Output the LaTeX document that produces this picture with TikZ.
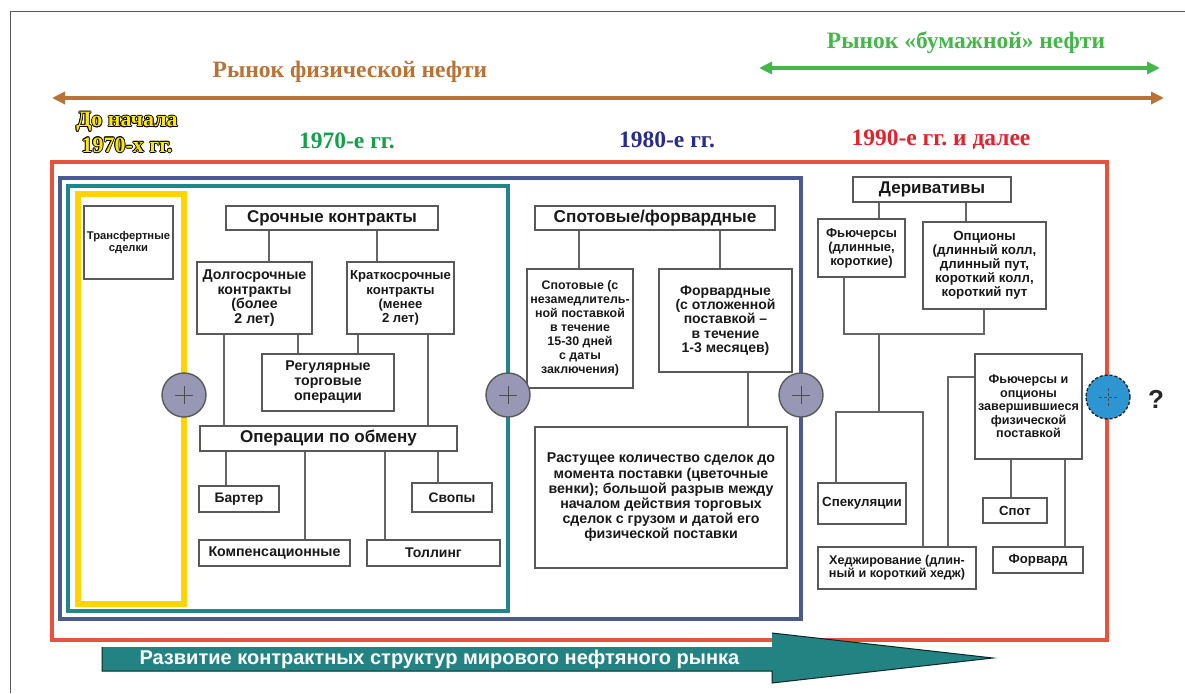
\documentclass[tikz,border=0pt]{standalone}
\usepackage{fontspec}
\setmainfont{Liberation Serif}
\setsansfont{Liberation Sans}
\usetikzlibrary{arrows.meta}
\frenchspacing
\definecolor{cbrown}{RGB}{185,115,55}
\definecolor{cgreentop}{RGB}{70,182,75}
\definecolor{cgreen}{RGB}{20,160,75}
\definecolor{cnavy}{RGB}{40,45,140}
\definecolor{cred}{RGB}{225,35,45}
\definecolor{fred}{RGB}{230,82,60}
\definecolor{fblue}{RGB}{75,90,145}
\definecolor{fteal}{RGB}{30,135,135}
\definecolor{fyel}{RGB}{255,212,0}
\definecolor{tyel}{RGB}{255,232,0}
\definecolor{plusfill}{RGB}{152,152,182}
\definecolor{bluefill}{RGB}{45,150,210}
\definecolor{arrteal}{RGB}{35,130,130}
\newcommand\mybox[8]{%
 \pgfmathsetmacro\cx{(#2+#4)/2}\pgfmathsetmacro\cy{(#3+#5)/2}%
 \pgfmathsetmacro\ww{#4-#2}\pgfmathsetmacro\hh{#5-#3}%
 \node[bx, minimum width=\ww pt, minimum height=\hh pt, font=\sffamily\bfseries\fontsize{#6}{#7}\selectfont] (#1) at (\cx,\cy) {#8};}
\begin{document}
\begin{tikzpicture}[x=1pt,y=-1pt,
  bx/.style={draw=black!65, line width=1.3pt, fill=white, inner sep=0pt, align=center, text=black!90},
  ln/.style={draw=black!60, line width=1.3pt},
  frame/.style={line width=4.5pt},
  head/.style={font=\rmfamily\bfseries\fontsize{23.5}{24}\selectfont},
  oldhead/.style={font=\rmfamily\bfseries\fontsize{22}{22}\selectfont},
  plusc/.style={circle, draw=black!65, line width=1.4pt, fill=plusfill, minimum size=44pt, inner sep=0pt,
    path picture={\draw[black!70, line width=1pt] ([xshift=-9pt]path picture bounding box.center) -- ([xshift=9pt]path picture bounding box.center) ([yshift=-9pt]path picture bounding box.center) -- ([yshift=9pt]path picture bounding box.center);}},
  ]
\useasboundingbox (0,0) rectangle (1185,693);
\fill[white] (0,0) rectangle (1185,693);
% outer thin border
\draw[black!65, line width=1pt] (10,693) -- (10,12) -- (1185,12);

% headings
\node[head, text=cbrown] (hphys) at (350,72) {Рынок физической нефти};
\node[head, text=cgreentop] (hpaper) at (966,43) {Рынок «бумажной» нефти};
\coordinate (bl) at (52,98); \coordinate (br) at (1164,98);
\draw[cbrown, line width=4pt, {Triangle[length=13pt,width=12pt]}-{Triangle[length=13pt,width=12pt]}] (bl) -- (br);
\coordinate (gl) at (759,68); \coordinate (gr) at (1160,68);
\draw[cgreentop, line width=4pt, {Triangle[length=13pt,width=12pt]}-{Triangle[length=13pt,width=12pt]}] (gl) -- (gr);

\foreach \dx/\dy [count=\i] in {-0.9/0,0.9/0,0/-0.9,0/0.9,-0.65/-0.65,0.65/0.65,-0.65/0.65,0.65/-0.65} {
  \node[oldhead, text=black] (sha\i) at (127+\dx,122+\dy) {До начала};
  \node[oldhead, text=black] (shb\i) at (127+\dx,145+\dy) {1970-х гг.};
}
\node[oldhead, text=tyel] (h60a) at (127,122) {До начала};
\node[oldhead, text=tyel] (h60b) at (127,145) {1970-х гг.};
\node[head, text=cgreen] (h70) at (347,141) {1970-е гг.};
\node[head, text=cnavy] (h80) at (667,140) {1980-е гг.};
\node[head, text=cred] (h90) at (941,140) {1990-е гг. и далее};

% frames
\draw[frame, fred] (52,162) rectangle (1107,640);
\draw[frame, fblue] (60,178) rectangle (801,619);
\draw[frame, fteal] (68,186) rectangle (508,611);
\draw[frame, fyel, line width=5.5pt] (78,194) rectangle (184,604);

% boxes
\mybox{trans}{84}{206}{173}{279}{11.2}{12}{Трансфертные\\сделки}
\mybox{srochnye}{226}{206}{438}{230}{17}{18}{Срочные контракты}
\mybox{dolgo}{197}{262}{312}{334}{14.2}{14.8}{Долгосрочные\\контракты\\(более\\2 лет)}
\mybox{kratko}{347}{262}{454}{334}{13.1}{14.3}{Краткосрочные\\контракты\\(менее\\2 лет)}
\mybox{regul}{262}{354}{394}{411}{14.2}{15}{Регулярные\\торговые\\операции}
\mybox{obmen}{200}{426}{457}{451}{17}{18}{Операции по обмену}
\mybox{barter}{199}{486}{279}{512}{13.8}{15}{Бартер}
\mybox{svopy}{412}{483}{492}{512}{13.8}{15}{Свопы}
\mybox{kompens}{199}{540}{350}{566}{14.2}{15}{Компенсационные}
\mybox{tolling}{367}{540}{500}{566}{14}{15}{Толлинг}
\mybox{spotfor}{535}{206}{775}{230}{17.2}{18}{Спотовые/форвардные}
\mybox{spot}{527}{269}{633}{388}{12.4}{14}{Спотовые (с\\незамедлитель-\\ной поставкой\\в течение\\15-30 дней\\с даты\\заключения)}
\mybox{forw}{659}{269}{792}{372}{14}{14.3}{Форвардные\\(с отложенной\\поставкой –\\в течение\\1-3 месяцев)}
\mybox{rastush}{535}{427}{787}{568}{14.2}{15.2}{Растущее количество сделок до\\момента поставки (цветочные\\венки); большой разрыв между\\началом действия торговых\\сделок с грузом и датой его\\физической поставки}
\mybox{deriv}{853}{177}{1011}{202}{17}{18}{Деривативы}
\mybox{fut}{818}{219}{905}{277}{13}{14}{Фьючерсы\\(длинные,\\короткие)}
\mybox{opt}{923}{222}{1046}{309}{13.3}{14}{Опционы\\(длинный колл,\\длинный пут,\\короткий колл,\\короткий пут}
\mybox{fo}{975}{354}{1082}{459}{12.6}{13.5}{Фьючерсы и\\опционы\\завершившиеся\\физической\\поставкой}
\mybox{spek}{818}{483}{906}{524}{13.3}{14}{Спекуляции}
\mybox{hedge}{818}{547}{976}{589}{12.6}{13}{Хеджирование (длин-\\ный и короткий хедж)}
\mybox{spotR}{983}{498}{1047}{523}{13.2}{14}{Спот}
\mybox{forward}{993}{547}{1083}{573}{13.2}{14}{Форвард}

% connectors
\draw[ln] (269,0 |- srochnye.south) -- (269,0 |- dolgo.north);
\draw[ln] (377,0 |- srochnye.south) -- (377,0 |- kratko.north);
\draw[ln] (298,0 |- dolgo.south) -- (298,0 |- regul.north);
\draw[ln] (358,0 |- kratko.south) -- (358,0 |- regul.north);
\draw[ln] (224,0 |- dolgo.south) -- (224,0 |- obmen.north);
\draw[ln] (428,0 |- kratko.south) -- (428,0 |- obmen.north);
\draw[ln] (226,0 |- obmen.south) -- (226,0 |- barter.north);
\draw[ln] (305,0 |- obmen.south) -- (305,0 |- kompens.north);
\draw[ln] (385,0 |- obmen.south) -- (385,0 |- tolling.north);
\draw[ln] (438,0 |- obmen.south) -- (438,0 |- svopy.north);
\draw[ln] (579,0 |- spotfor.south) -- (579,0 |- spot.north);
\draw[ln] (720,0 |- spotfor.south) -- (720,0 |- forw.north);
\draw[ln] (748,0 |- forw.south) -- (748,0 |- rastush.north);
\draw[ln] (879,0 |- deriv.south) -- (879,0 |- fut.north);
\draw[ln] (966,0 |- deriv.south) -- (966,0 |- opt.north);
\coordinate (jA) at (879,334);
\coordinate (jB) at (879,412);
\draw[ln] (844,0 |- fut.south) |- (984,0 |- jA) -- (984,0 |- opt.south);
\draw[ln] (jA) -- (jB);
\draw[ln] (836,0 |- spek.north) |- (923,0 |- jB) -- (923,0 |- hedge.north);
\draw[ln] (fo.west |- 0,377) -| (948,0 |- hedge.north);
\draw[ln] (1011,0 |- fo.south) -- (1011,0 |- spotR.north);
\draw[ln] (1065,0 |- fo.south) -- (1065,0 |- forward.north);

% plus circles
\node[plusc] (p1) at (184,395) {};
\node[plusc] (p2) at (508,395) {};
\node[plusc] (p3) at (801,395) {};
\node[plusc, fill=bluefill, draw=black!85, dash pattern=on 3pt off 2pt] (p4) at (1108,397) {};
\node[font=\sffamily\bfseries\fontsize{26}{26}\selectfont, text=black!85] (q) at (1156,399) {?};

% bottom arrow
\coordinate (a0) at (102,647);
\coordinate (tip) at (993,658);
\fill[arrteal] (a0) -- (772,647) -- (772,633) -- (tip) -- (772,683) -- (772,671) -- (102,671) -- cycle;
\draw[black!70!arrteal, line width=1pt] (772,633) -- (tip) -- (772,683) -- (772,671) -- (102,671) -- (a0);
\node[anchor=west, text=white, font=\sffamily\bfseries\fontsize{20}{20}\selectfont] (devt) at (136,659) {Развитие контрактных структур мирового нефтяного рынка};
\end{tikzpicture}
\end{document}
